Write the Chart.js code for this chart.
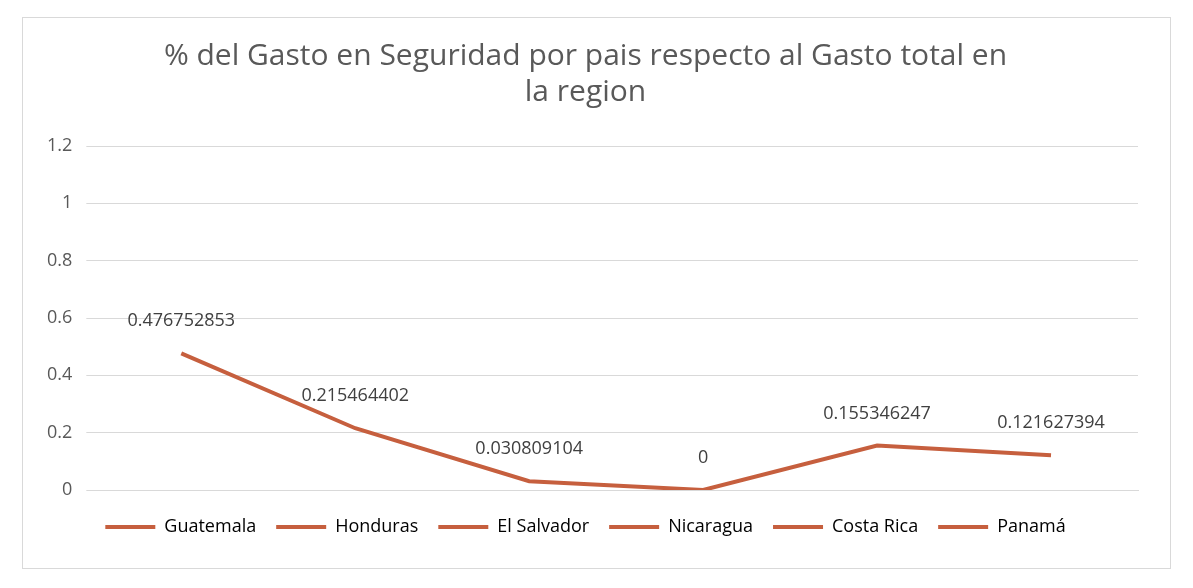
<!DOCTYPE html>
<html><head><meta charset="utf-8">
<script src="https://cdn.jsdelivr.net/npm/chart.js@4/dist/chart.umd.min.js"></script>
<style>
html,body{margin:0;background:#fff;}
#box{position:absolute;left:22px;top:17px;width:1149px;height:552px;border:1px solid #d9d9d9;box-sizing:border-box;}
</style></head><body>
<div id="box"><canvas id="c"></canvas></div>
<script>
const categories = ["Guatemala","Honduras","El Salvador","Nicaragua","Costa Rica","Panamá"];
const values = [0.476752853,0.215464402,0.030809104,0,0.155346247,0.121627394];
const valueLabels = ["0.476752853","0.215464402","0.030809104","0","0.155346247","0.121627394"];
const color = "#C65F3E";
const labelPlugin = {
  id:'lbl',
  afterDatasetsDraw(chart){
    const ctx=chart.ctx, meta=chart.getDatasetMeta(0);
    ctx.save();ctx.font='18px "Open Sans", Calibri, sans-serif';ctx.fillStyle='#404040';
    ctx.textAlign='center';ctx.textBaseline='middle';
    meta.data.forEach((p,i)=>ctx.fillText(valueLabels[i],p.x,p.y-32));
    ctx.restore();
  }
};
new Chart(document.getElementById('c'),{
  type:'line',
  data:{labels:categories,datasets:[{data:values,borderColor:color,borderWidth:4,pointRadius:0,tension:0}]},
  options:{
    responsive:true,maintainAspectRatio:false,animation:false,
    layout:{padding:{left:10,right:32,top:10,bottom:22}},
    plugins:{
      title:{display:true,text:["% del Gasto en Seguridad por pais respecto al Gasto total en","la region"],
        color:'#595959',font:{size:30,family:'"Open Sans", Calibri, sans-serif',weight:'normal'},padding:{top:10,bottom:36},lineHeight:1.4},
      legend:{position:'bottom',labels:{
        color:'#404040',font:{size:18,family:'"Open Sans", Calibri, sans-serif'},boxWidth:50,boxHeight:4,padding:20,
        generateLabels:()=>categories.map(c=>({text:c,fillStyle:color,strokeStyle:color,lineWidth:0}))
      },onClick:null},
      tooltip:{enabled:false}
    },
    scales:{
      x:{offset:true,grid:{display:false},border:{color:'#d9d9d9'},ticks:{display:false}},
      y:{min:0,max:1.2,ticks:{stepSize:0.2,color:'#595959',font:{size:18,family:'"Open Sans", Calibri, sans-serif'},padding:14,
          callback:v=>Math.round(v*10)/10+''},
        grid:{color:'#d9d9d9'},border:{display:false}}
    }
  },
  plugins:[labelPlugin]
});
</script></body></html>
